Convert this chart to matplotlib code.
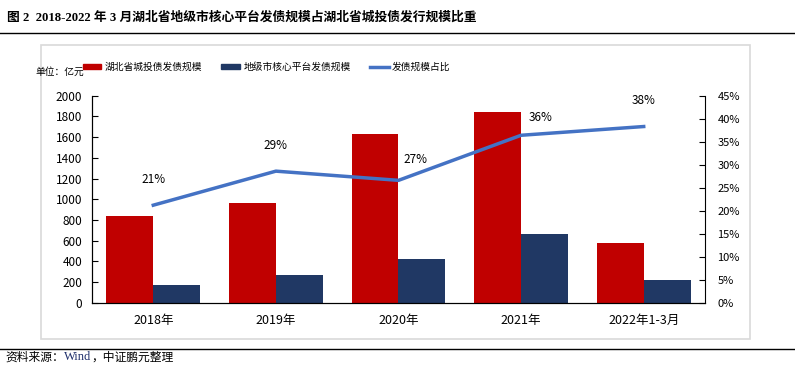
import numpy as np
import matplotlib
matplotlib.use('Agg')
import matplotlib.pyplot as plt
from matplotlib.patches import Rectangle
from matplotlib.lines import Line2D

plt.rcParams['font.family'] = ['Noto Sans CJK SC', 'DejaVu Sans']

# data
categories = ['2018年', '2019年', '2020年', '2021年', '2022年1-3月']
hubei_issue = [835, 960, 1627, 1840, 574]      # 湖北省城投债发债规模 (亿元)
core_issue = [171, 268, 422, 661, 216]         # 地级市核心平台发债规模 (亿元)
share_pct = [21.2, 28.6, 26.6, 36.4, 38.3]     # 发债规模占比 (%)
share_labels = ['21%', '29%', '27%', '36%', '38%']

red = '#C00000'
navy = '#203864'
blue = '#4472C4'

fig = plt.figure(figsize=(7.95, 3.72), dpi=100)

# title and rules
fig.text(0.009, 0.952, '图 2  2018-2022 年 3 月湖北省地级市核心平台发债规模占湖北省城投债发行规模比重',
         fontsize=9.2, fontweight='bold', va='center', ha='left',
         family=['Liberation Serif', 'Noto Sans CJK SC'])
fig.add_artist(Line2D([0, 1], [0.911, 0.911], color='black', lw=1.0))
fig.add_artist(Line2D([0, 1], [0.062, 0.062], color='black', lw=1.0))

# light frame round the chart
fig.add_artist(Rectangle((0.052, 0.089), 0.891, 0.79, transform=fig.transFigure,
                         fill=False, edgecolor='#D9D9D9', lw=1.2))

ax = fig.add_axes([0.1157, 0.1863, 0.7711, 0.5564])
x = np.arange(len(categories))
w = 0.383
ax.bar(x - w / 2, hubei_issue, width=w, color=red, label='湖北省城投债发债规模')
ax.bar(x + w / 2, core_issue, width=w, color=navy, label='地级市核心平台发债规模')
ax.set_xlim(-0.5, len(categories) - 0.5)
ax.set_ylim(0, 2000)
ax.set_yticks(np.arange(0, 2001, 200))
ax.set_xticks(x)
ax.set_xticklabels(categories, fontsize=9)
ax.tick_params(axis='x', length=0, pad=8)
ax.tick_params(axis='y', direction='in', length=4, labelsize=8.5, pad=7)
ax.spines['top'].set_visible(False)
ax.spines['right'].set_visible(False)

ax2 = ax.twinx()
ax2.plot(x, share_pct, color=blue, lw=2.5, label='发债规模占比')
ax2.set_ylim(0, 45)
ax2.set_yticks(np.arange(0, 46, 5))
ax2.set_yticklabels([f'{v}%' for v in range(0, 46, 5)])
ax2.tick_params(axis='y', direction='in', length=4, labelsize=8, pad=9)
ax2.spines['top'].set_visible(False)

offsets = [(0, 14), (0, 14), (12, 10), (14, 8), (0, 14)]
for xi, yi, lab, off in zip(x, share_pct, share_labels, offsets):
    ax2.annotate(lab, (xi, yi), xytext=off, textcoords='offset points',
                 ha='center', va='bottom', fontsize=8.5)

# source line, chained so the pieces do not collide
t1 = fig.text(0.007, 0.04, '资料来源：', fontsize=8.5, va='center', ha='left')
t2 = ax.annotate('Wind', xy=(1, 0.5), xycoords=t1, va='center', ha='left',
                 fontsize=9, color='#1F2F6B', family='Liberation Serif',
                 annotation_clip=False)
ax.annotate('，中证鹏元整理', xy=(1, 0.5), xycoords=t2, va='center', ha='left',
            fontsize=8.5, annotation_clip=False)

# legend and unit
fig.text(0.045, 0.806, '单位：亿元', fontsize=7, va='center', ha='left')
handles = [Rectangle((0, 0), 1, 1, color=red), Rectangle((0, 0), 1, 1, color=navy),
           Line2D([0], [0], color=blue, lw=2.5)]
labels = ['湖北省城投债发债规模', '地级市核心平台发债规模', '发债规模占比']
fig.legend(handles, labels, loc='center left', bbox_to_anchor=(0.104, 0.82),
           ncol=3, frameon=False, fontsize=7, handlelength=1.9, handleheight=0.5,
           handletextpad=0.35, columnspacing=2.0, borderpad=0, borderaxespad=0)

fig.savefig('out.png', dpi=100)
